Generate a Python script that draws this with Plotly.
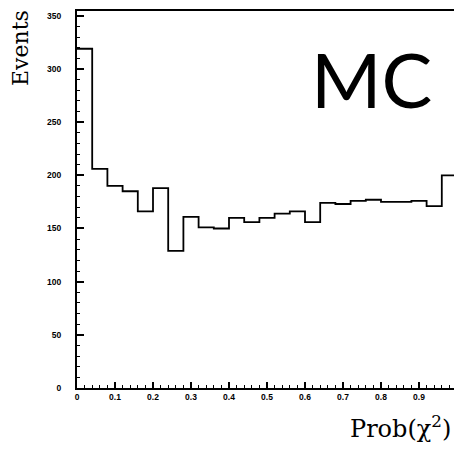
import plotly.graph_objects as go

# Histogram of Prob(chi^2), 25 bins of width 0.04
bin_lo = [round(0.04 * i, 2) for i in range(25)]
events = [319, 206, 190, 185, 166, 188, 129, 161, 151, 150, 160, 156, 160,
          164, 166, 156, 174, 173, 176, 177, 175, 175, 176, 171, 200]
x_ticks = [0, 0.1, 0.2, 0.3, 0.4, 0.5, 0.6, 0.7, 0.8, 0.9]
x_ticklabels = ["0", "0.1", "0.2", "0.3", "0.4", "0.5", "0.6", "0.7", "0.8", "0.9"]
y_ticks = [0, 50, 100, 150, 200, 250, 300, 350]

W, H = 454, 449
ML, MT, MB = 77, 11, 61
PW = W - ML
PH = H - MT - MB

xs = bin_lo + [1.0]
ys = events + [events[-1]]

fig = go.Figure()
fig.add_trace(go.Scatter(x=xs, y=ys, mode="lines", line=dict(shape="hv", color="black", width=1.8),
                         hoverinfo="skip", showlegend=False))

tickfont = dict(family="Liberation Sans", size=8.5, color="black", weight="bold")
fig.update_layout(
    width=W, height=H,
    margin=dict(l=ML, r=0, t=MT, b=MB, pad=0),
    paper_bgcolor="white", plot_bgcolor="white",
    showlegend=False,
    xaxis=dict(range=[0, PW / 380.0], tickmode="array", tickvals=x_ticks, ticktext=x_ticklabels,
               ticks="inside", ticklen=6, tickwidth=1.5, tickcolor="black",
               minor=dict(ticks="inside", ticklen=3, tickwidth=1.2, tickcolor="black", dtick=0.02, showgrid=False),
               showline=True, linecolor="black", linewidth=2, mirror=True,
               showgrid=False, zeroline=False, tickfont=tickfont, ticklabelstandoff=0),
    yaxis=dict(range=[0, 354.5], tickmode="array", tickvals=y_ticks,
               ticks="inside", ticklen=7, tickwidth=1.5, tickcolor="black",
               minor=dict(ticks="inside", ticklen=3, tickwidth=1.2, tickcolor="black", dtick=10, showgrid=False),
               showline=True, linecolor="black", linewidth=2,
               showgrid=False, zeroline=False, tickfont=tickfont, ticklabelstandoff=12),
)

def px(x):
    return (x - ML) / PW

def py(y):
    return (H - MB - y) / PH

fig.add_annotation(xref="paper", yref="paper", x=px(20), y=py(48), text="Events", showarrow=False,
                   textangle=-90, font=dict(family="DejaVu Serif", size=22, color="black"),
                   xanchor="center", yanchor="middle")
fig.add_annotation(xref="paper", yref="paper", x=px(453), y=py(427), text="Prob(χ<sup>2</sup>)", showarrow=False,
                   font=dict(family="DejaVu Serif", size=24, color="black"),
                   xanchor="right", yanchor="middle")
fig.add_annotation(xref="paper", yref="paper", x=px(371), y=py(78), text="MC", showarrow=False,
                   font=dict(family="Lato", size=76, color="black"),
                   xanchor="center", yanchor="middle")

fig.write_html("out.html")
